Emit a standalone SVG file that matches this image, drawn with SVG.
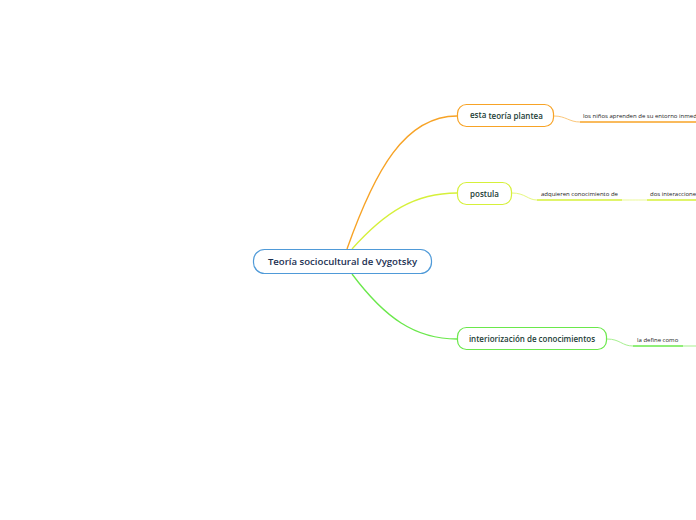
<svg xmlns="http://www.w3.org/2000/svg" width="696" height="520" viewBox="0 0 696 520">
<style>
.main{font-family:"Open Sans","Noto Sans",sans-serif;font-weight:600;font-size:9.6px;fill:#1b2f52;text-anchor:middle}
.br{font-family:"Open Sans","Noto Sans",sans-serif;font-weight:600;font-size:8px;fill:#1c3d36;text-anchor:middle}
.brl{font-family:"Open Sans","Noto Sans",sans-serif;font-weight:600;font-size:8px;fill:#1c3d36}
.sub{font-family:"Open Sans","Noto Sans",sans-serif;font-size:6px;fill:#222}
.box{fill:#fff;stroke-width:1.2}
.c{fill:none}
</style>
<rect width="696" height="520" fill="#fff"/>
<g id="connectors">
<path class="c" d="M347,249 C375,170 405,116 457,116" stroke="#f7a326" stroke-width="1.4"/>
<path class="c" d="M352,249 C385,212 415,193 457,193" stroke="#d6f03a" stroke-width="1.3"/>
<path class="c" d="M352,274 C385,318 415,339 457,339" stroke="#6ae84b" stroke-width="1.3"/>
<path class="c" d="M554,116 C566,116 569,122 580,122" stroke="#fbc77a" stroke-width="1"/>
<line x1="580" y1="122" x2="696" y2="122" stroke="#f7a326" stroke-width="1.6"/>
<path class="c" d="M512,193 C525,193 528,200 537,200" stroke="#e6f77e" stroke-width="1"/>
<line x1="537" y1="200" x2="622" y2="200" stroke="#d6f03a" stroke-width="1.6"/>
<path class="c" d="M622,200 C634,200 638,200 647,200" stroke="#e6f77e" stroke-width="0.8"/>
<line x1="647" y1="200" x2="696" y2="200" stroke="#d6f03a" stroke-width="1.6"/>
<path class="c" d="M607,339 C620,339 622,346 633,346" stroke="#a6f08f" stroke-width="1"/>
<line x1="633" y1="346" x2="683" y2="346" stroke="#6ae84b" stroke-width="1.6"/>
<line x1="683" y1="346" x2="696" y2="346" stroke="#b4f3a1" stroke-width="1.2"/>
</g>
<g id="central">
<rect class="box" x="253.5" y="249.5" width="178" height="24" rx="11" stroke="#4f9ad8"/>
<text class="main" x="342.5" y="265">Teoría sociocultural de Vygotsky</text>
</g>
<g id="n1">
<rect class="box" x="457.5" y="104.5" width="96" height="22" rx="9" stroke="#f7a326"/>
<text class="brl" x="470" y="118">esta <tspan dy="1">teoría plantea</tspan></text>
</g>
<g id="n1s">
<text class="sub" x="583" y="118">los niños aprenden de su entorno inmed</text>
</g>
<g id="n2">
<rect class="box" x="457.5" y="182.5" width="54" height="22" rx="9" stroke="#d6f03a"/>
<text class="br" x="484.5" y="196.5">postula</text>
</g>
<g id="n2s">
<text class="sub" x="541" y="195.5">adquieren conocimiento de</text>
</g>
<g id="n2s2">
<text class="sub" x="650" y="195.5">dos interaccione</text>
</g>
<g id="n3">
<rect class="box" x="457.5" y="327.5" width="149" height="22" rx="9" stroke="#6ae84b"/>
<text class="br" x="532" y="341.5">interiorización de conocimientos</text>
</g>
<g id="n3s">
<text class="sub" x="637" y="341.5">la define como</text>
</g>
</svg>
